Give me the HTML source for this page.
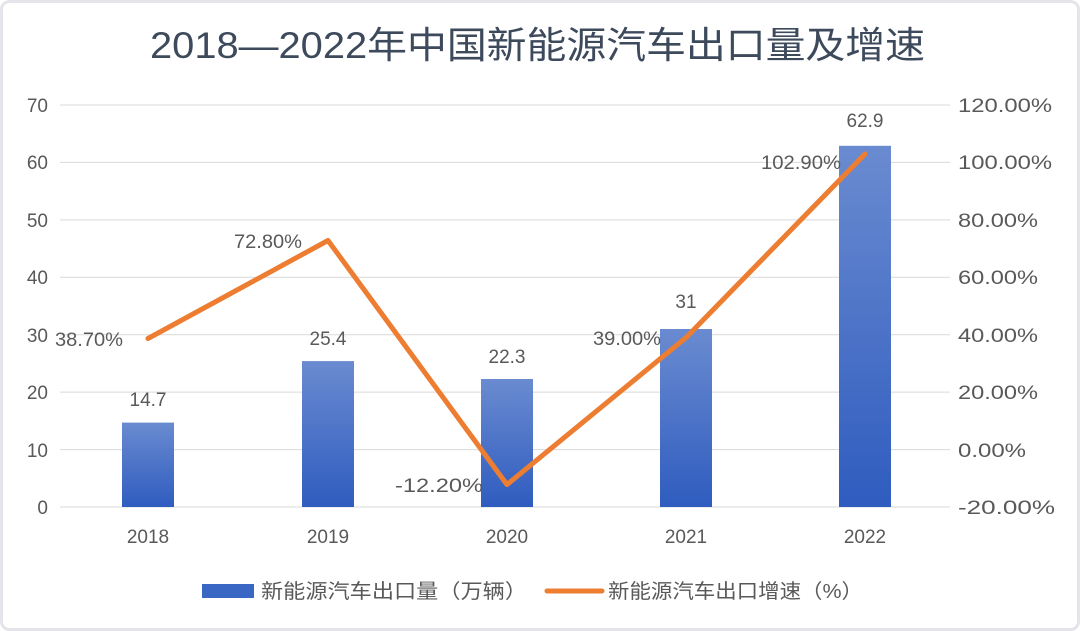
<!DOCTYPE html>
<html><head><meta charset="utf-8"><style>
html,body{margin:0;padding:0;background:#fff;}
svg{display:block;}
text{font-family:"Liberation Sans","Noto Sans CJK SC",sans-serif;}
</style></head><body>
<svg width="1080" height="631" viewBox="0 0 1080 631" xmlns="http://www.w3.org/2000/svg">
<defs>
<linearGradient id="g" x1="0" y1="0" x2="0" y2="1">
<stop offset="0" stop-color="#6a8bd0"/><stop offset="1" stop-color="#2f5cbf"/>
</linearGradient>
</defs>
<rect x="1.5" y="1.5" width="1077" height="628" rx="8" fill="#fff" stroke="#e4e4ea" stroke-width="3"/>
<text x="150" y="58" font-size="37" fill="#3d4a5c" textLength="775" lengthAdjust="spacingAndGlyphs">2018—2022年中国新能源汽车出口量及增速</text>
<g stroke="#d9d9d9" stroke-width="1">
<line x1="60" y1="105" x2="950" y2="105"/><line x1="60" y1="162.4" x2="950" y2="162.4"/>
<line x1="60" y1="219.9" x2="950" y2="219.9"/><line x1="60" y1="277.3" x2="950" y2="277.3"/>
<line x1="60" y1="334.7" x2="950" y2="334.7"/><line x1="60" y1="392.1" x2="950" y2="392.1"/>
<line x1="60" y1="449.6" x2="950" y2="449.6"/><line x1="60" y1="507" x2="950" y2="507"/>
</g>
<g font-size="19" fill="#595959" text-anchor="end">
<text x="48" y="112">70</text><text x="48" y="169">60</text><text x="48" y="227">50</text>
<text x="48" y="284">40</text><text x="48" y="342">30</text><text x="48" y="399">20</text>
<text x="48" y="457">10</text><text x="48" y="514">0</text>
</g>
<g font-size="19" fill="#595959">
<text x="958" y="112" textLength="94" lengthAdjust="spacingAndGlyphs">120.00%</text>
<text x="958" y="169" textLength="94" lengthAdjust="spacingAndGlyphs">100.00%</text>
<text x="958" y="227" textLength="80" lengthAdjust="spacingAndGlyphs">80.00%</text>
<text x="958" y="284" textLength="80" lengthAdjust="spacingAndGlyphs">60.00%</text>
<text x="958" y="342" textLength="80" lengthAdjust="spacingAndGlyphs">40.00%</text>
<text x="958" y="399" textLength="80" lengthAdjust="spacingAndGlyphs">20.00%</text>
<text x="958" y="457" textLength="68" lengthAdjust="spacingAndGlyphs">0.00%</text>
<text x="958" y="514" textLength="97" lengthAdjust="spacingAndGlyphs">-20.00%</text>
</g>
<g fill="url(#g)">
<rect x="122" y="422.6" width="52" height="84.4"/>
<rect x="302" y="361.1" width="52" height="145.9"/>
<rect x="481" y="379" width="52" height="128"/>
<rect x="660" y="329" width="52" height="178"/>
<rect x="839" y="145.8" width="52" height="361.2"/>
</g>
<g font-size="19" fill="#595959" text-anchor="middle">
<text x="148" y="543">2018</text><text x="328" y="543">2019</text><text x="507" y="543">2020</text>
<text x="686" y="543">2021</text><text x="865" y="543">2022</text>
<text x="148" y="406">14.7</text><text x="328" y="345">25.4</text><text x="507" y="363">22.3</text>
<text x="686" y="308">31</text><text x="865" y="127">62.9</text>
</g>
<polyline points="148,338.5 328,240.5 507,484.6 686,337.6 865,154" fill="none" stroke="#ed7d31" stroke-width="5" stroke-linejoin="round" stroke-linecap="round"/>
<g font-size="19" fill="#595959">
<text x="55" y="346" textLength="68" lengthAdjust="spacingAndGlyphs">38.70%</text>
<text x="234" y="248" textLength="68" lengthAdjust="spacingAndGlyphs">72.80%</text>
<text x="395" y="492" textLength="88" lengthAdjust="spacingAndGlyphs">-12.20%</text>
<text x="593" y="345" textLength="68" lengthAdjust="spacingAndGlyphs">39.00%</text>
<text x="761" y="169" textLength="80" lengthAdjust="spacingAndGlyphs">102.90%</text>
</g>
<rect x="202" y="584" width="52" height="14" fill="#3a66c4"/>
<text x="261" y="598" font-size="20" fill="#595959" textLength="266" lengthAdjust="spacingAndGlyphs">新能源汽车出口量（万辆）</text>
<line x1="547" y1="591" x2="602" y2="591" stroke="#ed7d31" stroke-width="5" stroke-linecap="round"/>
<text x="608" y="598" font-size="20" fill="#595959" textLength="255" lengthAdjust="spacingAndGlyphs">新能源汽车出口增速（%）</text>
</svg>
</body></html>
